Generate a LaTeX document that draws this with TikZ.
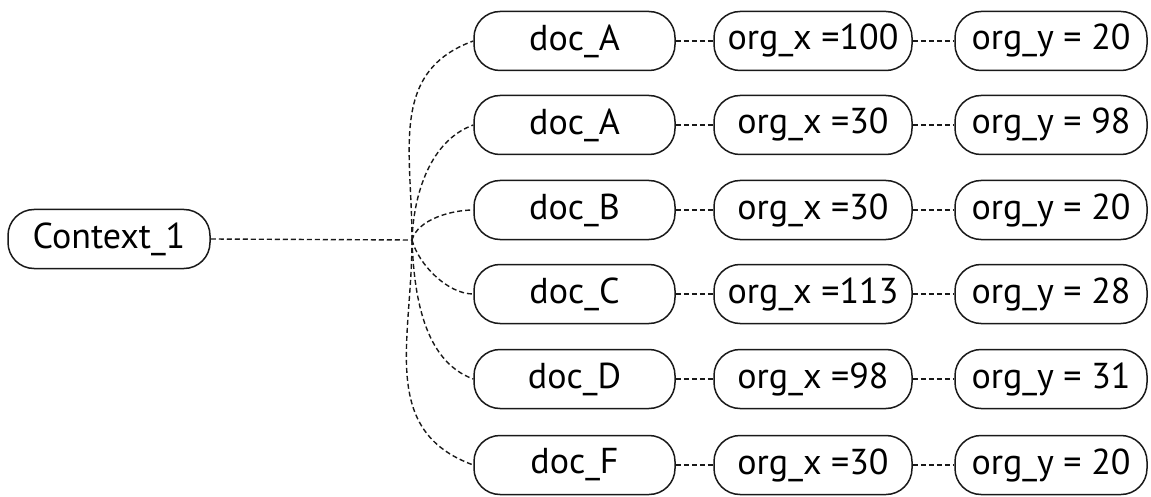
\documentclass[tikz,border=0pt]{standalone}
\usepackage{fontspec}
\setmainfont{PT Sans}
\begin{document}
\begin{tikzpicture}[x=1pt,y=-1pt,
  pill/.style={draw=black!90, line width=1.5pt, rounded corners=26pt,
    minimum height=59pt, inner sep=0pt, font=\fontsize{36}{40}\selectfont},
  docbox/.style={pill, minimum width=201pt},
  xbox/.style={pill, minimum width=198pt},
  ybox/.style={pill, minimum width=192pt},
  link/.style={draw=black!90, line width=1.4pt, dash pattern=on 5pt off 3pt}]
\useasboundingbox (0,0) rectangle (1151,497);

\node[pill, minimum width=202pt] (ctx) at (109,239) {Context\_1};
\coordinate (br) at (412,240);

% rows: document, org_x value, org_y value
\foreach \i/\y/\d/\ox/\oy in {1/41/doc\_A/100/20, 2/125/doc\_A/30/98,
    3/210/doc\_B/30/20, 4/294/doc\_C/113/28, 5/379/doc\_D/98/31,
    6/465/doc\_F/30/20} {
  \node[docbox] (d\i) at (574.5,\y) {\d};
  \node[xbox] (x\i) at (813,\y) {org\_x =\ox};
  \node[ybox] (y\i) at (1051,\y) {org\_y = \oy};
  \draw[link] (d\i.east) -- (x\i.west);
  \draw[link] (x\i.east) -- (y\i.west);
}

\draw[link] (ctx.east) -- (br);
\draw[link] (br) to[out=90, in=200, looseness=1.1] (d1.west);
\draw[link] (br) to[out=88, in=200, looseness=0.9] (d2.west);
\draw[link] (br) to[out=75, in=180, looseness=0.8] (d3.west);
\draw[link] (br) to[out=-75, in=180, looseness=0.8] (d4.west);
\draw[link] (br) to[out=-88, in=160, looseness=0.9] (d5.west);
\draw[link] (br) to[out=-90, in=160, looseness=1.1] (d6.west);
\end{tikzpicture}
\end{document}
